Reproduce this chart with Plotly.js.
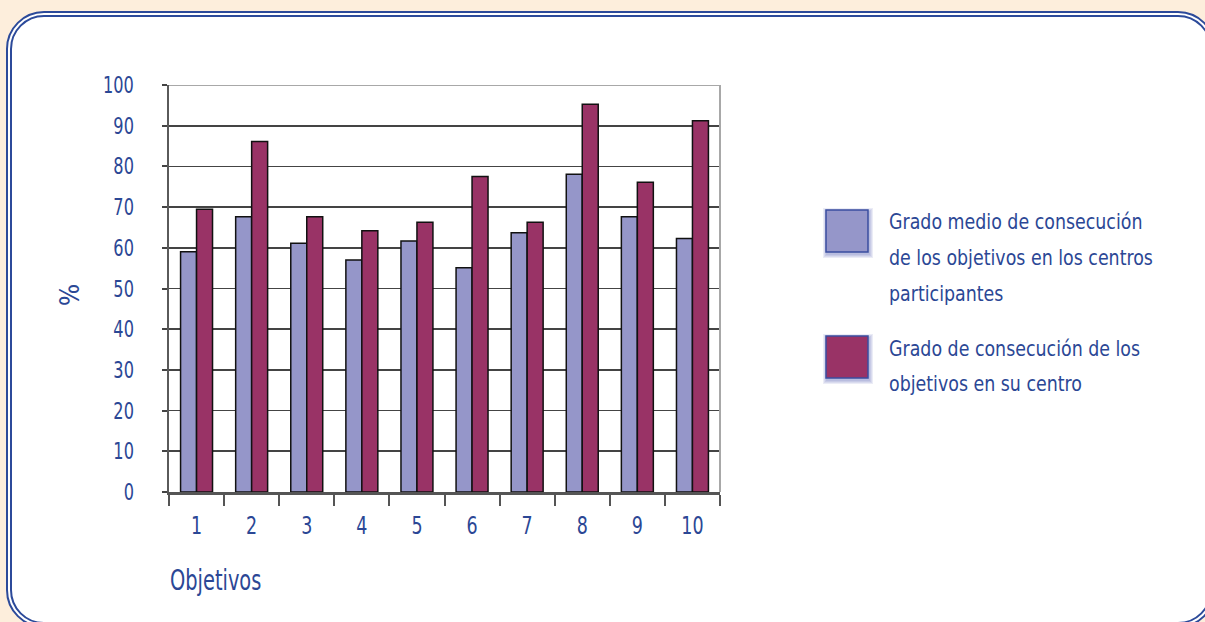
<!DOCTYPE html>
<html>
<head>
<meta charset="utf-8">
<script src="https://cdn.plot.ly/plotly-3.0.1.min.js"></script>
<style>
  html, body { margin: 0; padding: 0; width: 1205px; height: 622px; overflow: hidden; background: #fdeedc; }
  #frame { position: absolute; left: 6px; top: 11px; width: 1210px; height: 617px;
           border: 6px double #2c4a9a; border-radius: 38px; background: #ffffff; box-sizing: border-box; }
  #chart { position: absolute; left: 0; top: 0; width: 1205px; height: 622px; }
</style>
</head>
<body>
<div id="frame"></div>
<div id="chart"></div>
<script>
// ---- data ----
const categories = ['1', '2', '3', '4', '5', '6', '7', '8', '9', '10'];
const seriesNames = [
  'Grado medio de consecución de los objetivos en los centros participantes',
  'Grado de consecución de los objetivos en su centro'
];
const legendLines1 = ['Grado medio de consecución', 'de los objetivos en los centros', 'participantes'];
const legendLines2 = ['Grado de consecución de los', 'objetivos en su centro'];
const mediaCentros = [59, 67.6, 61.1, 57, 61.7, 55.1, 63.7, 78.1, 67.6, 62.3];
const suCentro = [69.5, 86.1, 67.6, 64.2, 66.3, 77.5, 66.3, 95.3, 76.1, 91.2];
const yTicks = [0, 10, 20, 30, 40, 50, 60, 70, 80, 90, 100];
const yTitle = '%';
const xTitle = 'Objetivos';

// ---- style ----
const FONT = '"DejaVu Sans Condensed", "DejaVu Sans", sans-serif';
const TXT = '#2b4795';
const BLUE = '#9596c9';
const RED = '#993366';

const traces = [
  { type: 'bar', x: categories, y: mediaCentros, name: seriesNames[0],
    marker: { color: BLUE, line: { color: '#111', width: 1.5 } }, hoverinfo: 'x+y' },
  { type: 'bar', x: categories, y: suCentro, name: seriesNames[1],
    marker: { color: RED, line: { color: '#111', width: 1.5 } }, hoverinfo: 'x+y' }
];

const shapes = [
  { type: 'line', xref: 'paper', yref: 'y', x0: 0, x1: 1, y0: 100, y1: 100, line: { color: '#a8a8a8', width: 2 }, layer: 'above' },
  { type: 'line', xref: 'paper', yref: 'y', x0: 1, x1: 1, y0: 0, y1: 100, line: { color: '#a8a8a8', width: 2 }, layer: 'above' }
];

const W = 1205, H = 622, L = 169, R = 485, T = 85, B = 130;
const pw = W - L - R, ph = H - T - B;
const px = x => (x - L) / pw;
const py = y => 1 - (y - T) / ph;
function swatch(x0, y0, size, color) {
  const out = [];
  for (let i = 4; i >= 1; i--) {
    out.push({ type: 'rect', xref: 'paper', yref: 'paper', layer: 'below',
      x0: px(x0 - i + 1), x1: px(x0 + size + i + 1), y0: py(y0 + size + i + 2), y1: py(y0 - i + 2),
      line: { width: 0 }, fillcolor: 'rgba(60,70,170,0.10)' });
  }
  out.push({ type: 'rect', xref: 'paper', yref: 'paper',
    x0: px(x0), x1: px(x0 + size), y0: py(y0 + size), y1: py(y0),
    line: { color: '#3a4ea0', width: 1.5 }, fillcolor: color });
  return out;
}
shapes.push(...swatch(826, 210, 42, BLUE));
shapes.push(...swatch(826, 336, 42, RED));

const annotations = [];
legendLines1.forEach((t, i) => annotations.push({
  xref: 'paper', yref: 'paper', x: px(887), y: py(221 + i * 36), xanchor: 'left', yanchor: 'middle',
  text: t, showarrow: false, font: { family: FONT, size: 22, color: TXT }
}));
legendLines2.forEach((t, i) => annotations.push({
  xref: 'paper', yref: 'paper', x: px(887), y: py(348 + i * 35), xanchor: 'left', yanchor: 'middle',
  text: t, showarrow: false, font: { family: FONT, size: 22, color: TXT }
}));
annotations.push({
  xref: 'paper', yref: 'paper', x: px(168), y: py(580), xanchor: 'left', yanchor: 'middle',
  text: xTitle, showarrow: false, font: { family: FONT, size: 28, color: TXT }
});
annotations.push({
  xref: 'paper', yref: 'paper', x: px(70), y: py(295), xanchor: 'center', yanchor: 'middle', textangle: -90,
  text: yTitle, showarrow: false, font: { family: FONT, size: 26, color: TXT }
});

const layout = {
  width: W, height: H,
  margin: { l: L, r: R, t: T, b: B, pad: 0 },
  paper_bgcolor: 'rgba(0,0,0,0)',
  plot_bgcolor: 'rgba(0,0,0,0)',
  showlegend: false,
  barmode: 'group',
  bargap: 0.42,
  bargroupgap: 0,
  font: { family: FONT, color: TXT, size: 22 },
  xaxis: {
    type: 'category',
    tickson: 'boundaries',
    ticks: 'outside', ticklen: 11, tickwidth: 2, tickcolor: '#555',
    showline: true, linecolor: '#555', linewidth: 2.5,
    showgrid: false, zeroline: false,
    tickfont: { family: FONT, size: 24, color: TXT },
    ticklabelstandoff: 11
  },
  yaxis: {
    range: [0, 100],
    tickvals: yTicks,
    ticks: 'outside', ticklen: 5, tickwidth: 2, tickcolor: '#444',
    showline: true, linecolor: '#5a5a5a', linewidth: 2.5,
    showgrid: true, gridcolor: '#444', gridwidth: 1.6,
    zeroline: false,
    tickfont: { family: FONT, size: 23, color: TXT },
    ticklabelstandoff: 23
  },
  shapes: shapes,
  annotations: annotations
};

// narrow the glyphs to imitate the condensed typeface of the original
const squeeze = { 22: 0.88, 23: 0.78, 24: 0.81, 26: 1, 28: 0.77 };
Plotly.newPlot('chart', traces, layout, { staticPlot: true }).then(gd => {
  gd.querySelectorAll('svg text').forEach(el => {
    if (!el.textContent) return;
    const fs = Math.round(parseFloat(getComputedStyle(el).fontSize));
    const k = squeeze[fs] || 0.82;
    if (k === 1) return;
    const len = el.getComputedTextLength();
    if (len <= 0) return;
    if (el.classList.contains('annotation-text')) {
      const bb = el.getBBox();
      el.setAttribute('text-anchor', 'start');
      el.setAttribute('x', bb.x.toFixed(2));
      el.querySelectorAll('tspan[x]').forEach(t => t.setAttribute('x', bb.x.toFixed(2)));
    }
    el.setAttribute('textLength', (len * k).toFixed(2));
    el.setAttribute('lengthAdjust', 'spacingAndGlyphs');
  });
});
</script>
</body>
</html>
